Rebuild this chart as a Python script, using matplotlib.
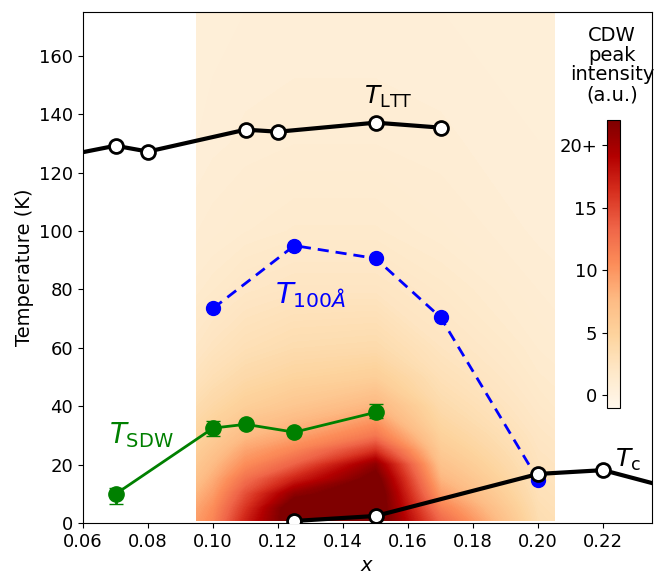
import numpy as np
import matplotlib
matplotlib.use('Agg')
import matplotlib.pyplot as plt
from matplotlib.colors import Normalize
from matplotlib.cm import ScalarMappable

# phase boundaries
x_ltt = [0.05, 0.07, 0.08, 0.11, 0.12, 0.15, 0.17]
t_ltt = [124.8, 129.2, 127.2, 134.7, 134.0, 137.1, 135.4]

x_100 = [0.10, 0.125, 0.15, 0.17, 0.20]
t_100 = [73.5, 95.0, 90.6, 70.4, 14.7]

x_sdw = [0.07, 0.10, 0.11, 0.125, 0.15]
t_sdw = [9.9, 32.5, 33.8, 31.1, 37.9]
e_sdw_lo = [3.4, 2.6, 1.0, 1.0, 2.0]
e_sdw_hi = [2.0, 2.6, 1.0, 1.0, 2.8]

x_tc = [0.125, 0.15, 0.20, 0.22, 0.24]
t_tc = [0.7, 2.4, 16.8, 18.1, 12.2]

# CDW peak intensity on a (T, x) grid
x_cdw = [0.095, 0.10, 0.11, 0.125, 0.15, 0.17, 0.20, 0.205]
t_cdw = [1, 5, 10, 15, 20, 25, 30, 40, 50, 60, 80, 100, 130, 175]
i_cdw = [
    [9.5, 11.0, 17.0, 24.0, 24.0, 13.0, 3.5, 3.2],   # 1 K
    [9.0, 10.5, 16.0, 24.0, 24.0, 11.5, 3.3, 3.0],   # 5 K
    [8.0, 9.5, 14.5, 21.0, 24.0, 9.5, 3.0, 2.8],     # 10 K
    [7.0, 8.5, 12.5, 17.0, 23.0, 8.0, 2.8, 2.6],     # 15 K
    [6.2, 7.5, 10.5, 13.5, 21.0, 6.8, 2.6, 2.4],     # 20 K
    [5.5, 6.5, 9.0, 11.0, 16.0, 5.8, 2.4, 2.2],      # 25 K
    [4.8, 5.6, 7.5, 9.0, 12.0, 5.0, 2.2, 2.0],       # 30 K
    [3.6, 4.2, 5.3, 6.3, 8.0, 3.8, 1.8, 1.6],        # 40 K
    [2.7, 3.2, 4.0, 4.7, 5.3, 3.0, 1.5, 1.4],        # 50 K
    [2.1, 2.5, 3.1, 3.6, 3.8, 2.4, 1.3, 1.2],        # 60 K
    [1.4, 1.6, 2.0, 2.3, 2.3, 1.7, 1.0, 0.9],        # 80 K
    [1.0, 1.1, 1.3, 1.5, 1.5, 1.2, 0.8, 0.8],        # 100 K
    [0.7, 0.8, 0.9, 1.0, 1.0, 0.9, 0.7, 0.7],        # 130 K
    [0.6, 0.6, 0.7, 0.7, 0.7, 0.7, 0.6, 0.6],        # 175 K
]

fig = plt.figure(figsize=(6.62, 5.74), dpi=100)
ax = fig.add_axes([83/662, 51/574, 569/662, 511/574])

cmap = plt.get_cmap('OrRd')
norm = Normalize(vmin=-1, vmax=22)
ax.contourf(x_cdw, t_cdw, i_cdw, levels=np.linspace(-1, 22, 150), cmap=cmap,
            norm=norm, extend='both', antialiased=False, zorder=0)

ax.plot(x_ltt, t_ltt, '-o', color='k', lw=3, ms=10, mfc='white', mec='k', mew=2,
        zorder=5)
ax.plot(x_tc, t_tc, '-o', color='k', lw=3, ms=10, mfc='white', mec='k', mew=2,
        zorder=5)
ax.plot(x_100, t_100, '--o', color='blue', lw=2, ms=10, dashes=(4, 2.5), zorder=4)
ax.errorbar(x_sdw, t_sdw, yerr=[e_sdw_lo, e_sdw_hi], fmt='-o', color='green',
            lw=2, ms=11, capsize=5, zorder=4)

ax.text(0.154, 146, r'$T_{\rm LTT}$', fontsize=18, ha='center', va='center')
ax.text(0.130, 78, r'$T_{100\AA}$', fontsize=21, color='blue', ha='center', va='center')
ax.text(0.078, 30, r'$T_{\rm SDW}$', fontsize=20, color='green', ha='center', va='center')
ax.text(0.2275, 21.5, r'$T_{\rm c}$', fontsize=18, ha='center', va='center')

ax.set_xlim(0.06, 0.235)
ax.set_ylim(0, 175)
ax.set_xticks(np.arange(0.06, 0.221, 0.02))
ax.set_yticks(np.arange(0, 161, 20))
ax.tick_params(labelsize=13)
ax.set_xlabel('$x$', fontsize=14)
ax.set_ylabel('Temperature (K)', fontsize=14)

cax = fig.add_axes([607/662, 166/574, 13/662, 288/574])
cb = fig.colorbar(ScalarMappable(norm=norm, cmap=cmap), cax=cax,
                  ticks=[0, 5, 10, 15, 20])
cb.ax.yaxis.set_ticks_position('left')
cb.ax.set_yticklabels(['0', '5', '10', '15', '20+'])
cb.ax.tick_params(labelsize=13)
cb.outline.set_linewidth(0.8)
fig.text(612/662, 1 - 65/574, 'CDW\npeak\nintensity\n(a.u.)', fontsize=14,
         ha='center', va='center', linespacing=1.05)

fig.savefig('out.png', dpi=100)
